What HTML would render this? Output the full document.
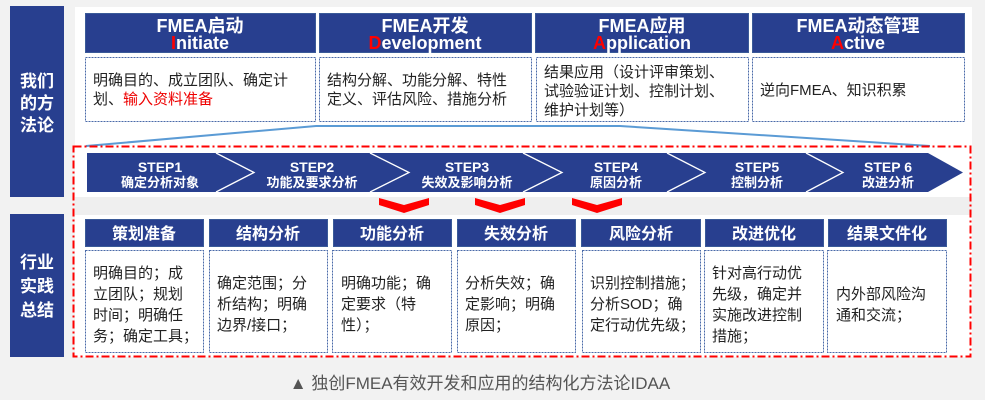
<!DOCTYPE html>
<html><head><meta charset="utf-8"><style>
body{margin:0;background:#f2f2f2;}
svg{display:block;font-family:"Liberation Sans","Noto Sans CJK SC",sans-serif;}
.h{fill:#fff;font-weight:bold;text-anchor:middle;}
.t{fill:#222;font-size:15px;}
</style></head><body>
<svg width="985" height="400" viewBox="0 0 985 400" xmlns="http://www.w3.org/2000/svg">
<rect width="985" height="400" fill="#f2f2f2"/>
<rect x="10" y="6" width="54" height="191" fill="#283f8f"/>
<rect x="10" y="214" width="54" height="143" fill="#283f8f"/>
<g class="h" font-size="17">
<text x="37" y="87">我们</text><text x="37" y="109">的方</text><text x="37" y="131">法论</text>
<text x="37" y="268">行业</text><text x="37" y="292">实践</text><text x="37" y="316">总结</text>
</g>
<rect x="75" y="7" width="897" height="190" fill="#fff"/>
<rect x="75" y="215" width="897" height="142" fill="#fff"/>
<rect x="75" y="197" width="897" height="18" fill="#efefef"/>
<g fill="#283f8f" stroke="#3a5a98" stroke-width="1">
<rect x="85.5" y="13.5" width="230" height="39"/>
<rect x="319.5" y="13.5" width="212" height="39"/>
<rect x="535.5" y="13.5" width="213" height="39"/>
<rect x="752.5" y="13.5" width="212" height="39"/>
</g>
<g class="h" font-size="18">
<text x="200" y="32">FMEA启动</text><text x="200" y="49"><tspan fill="#f00">I</tspan>nitiate</text>
<text x="425" y="32">FMEA开发</text><text x="425" y="49"><tspan fill="#f00">D</tspan>evelopment</text>
<text x="642" y="32">FMEA应用</text><text x="642" y="49"><tspan fill="#f00">A</tspan>pplication</text>
<text x="858" y="32">FMEA动态管理</text><text x="858" y="49"><tspan fill="#f00">A</tspan>ctive</text>
</g>
<g fill="#fff" stroke="#4a6aa8" stroke-width="1" stroke-dasharray="2,1">
<rect x="85.5" y="57.5" width="230" height="64"/>
<rect x="319.5" y="57.5" width="212" height="64"/>
<rect x="536.5" y="57.5" width="212" height="64"/>
<rect x="752.5" y="57.5" width="212" height="64"/>
</g>
<g class="t">
<text x="93" y="85">明确目的、成立团队、确定计</text>
<text x="93" y="104">划、<tspan fill="#e00">输入资料准备</tspan></text>
<text x="327" y="85">结构分解、功能分解、特性</text>
<text x="327" y="104">定义、评估风险、措施分析</text>
<text x="544" y="77">结果应用（设计评审策划、</text>
<text x="544" y="96">试验验证计划、控制计划、</text>
<text x="544" y="115">维护计划等）</text>
<text x="760" y="95">逆向FMEA、知识积累</text>
</g>
<polyline points="86,146 316,126 620,126 930,146" fill="none" stroke="#5b9bd5" stroke-width="2"/>
<path d="M87,153 H928 L963,172.5 L928,192 H87 Z" fill="#283f8f"/>
<g fill="none" stroke="#fff" stroke-width="1.3">
<polyline points="216,153 254,172.5 216,192"/>
<polyline points="370,153 409,172.5 370,192"/>
<polyline points="523,153 562,172.5 523,192"/>
<polyline points="667,153 705,172.5 667,192"/>
<polyline points="806,153 843,172.5 806,192"/>
</g>
<g class="h" font-size="14">
<text x="160" y="172">STEP1</text><text x="312" y="172">STEP2</text><text x="467" y="172">STEP3</text>
<text x="616" y="172">STEP4</text><text x="757" y="172">STEP5</text><text x="888" y="172">STEP 6</text>
</g>
<g class="h" font-size="13">
<text x="160" y="187">确定分析对象</text><text x="312" y="187">功能及要求分析</text><text x="467" y="187">失效及影响分析</text>
<text x="616" y="187">原因分析</text><text x="757" y="187">控制分析</text><text x="888" y="187">改进分析</text>
</g>
<g fill="#f00">
<path d="M379,198 L404,205 L429,198 L429,205 L404,213 L379,205 Z"/>
<path d="M475,198 L500,205 L525,198 L525,205 L500,213 L475,205 Z"/>
<path d="M572,198 L597,205 L622,198 L622,205 L597,213 L572,205 Z"/>
</g>
<g fill="#283f8f" stroke="#3a5a98">
<rect x="85.5" y="219.5" width="118" height="27"/>
<rect x="209.5" y="219.5" width="118" height="27"/>
<rect x="333.5" y="219.5" width="118" height="27"/>
<rect x="457.5" y="219.5" width="118" height="27"/>
<rect x="581.5" y="219.5" width="119" height="27"/>
<rect x="705.5" y="219.5" width="118" height="27"/>
<rect x="828.5" y="219.5" width="118" height="27"/>
</g>
<g class="h" font-size="16">
<text x="144" y="239">策划准备</text><text x="268" y="239">结构分析</text><text x="392" y="239">功能分析</text>
<text x="516" y="239">失效分析</text><text x="641" y="239">风险分析</text><text x="764" y="239">改进优化</text>
<text x="887" y="239">结果文件化</text>
</g>
<g fill="#fff" stroke="#4a6aa8" stroke-dasharray="2,1">
<rect x="85.5" y="250.5" width="118" height="102"/>
<rect x="209.5" y="250.5" width="118" height="102"/>
<rect x="332.5" y="250.5" width="119" height="102"/>
<rect x="457.5" y="250.5" width="118" height="102"/>
<rect x="582.5" y="250.5" width="118" height="102"/>
<rect x="704.5" y="250.5" width="119" height="102"/>
<rect x="827.5" y="250.5" width="119" height="102"/>
</g>
<g class="t" font-size="14">
<text x="93" y="278">明确目的；成</text><text x="93" y="299">立团队；规划</text><text x="93" y="320">时间；明确任</text><text x="93" y="341">务；确定工具；</text>
<text x="217" y="288">确定范围；分</text><text x="217" y="309">析结构；明确</text><text x="217" y="330">边界/接口；</text>
<text x="341" y="288">明确功能；确</text><text x="341" y="309">定要求（特</text><text x="341" y="330">性）；</text>
<text x="465" y="288">分析失效；确</text><text x="465" y="309">定影响；明确</text><text x="465" y="330">原因；</text>
<text x="590" y="288">识别控制措施；</text><text x="590" y="309">分析SOD；确</text><text x="590" y="330">定行动优先级；</text>
<text x="712" y="278">针对高行动优</text><text x="712" y="299">先级，确定并</text><text x="712" y="320">实施改进控制</text><text x="712" y="341">措施；</text>
<text x="836" y="299">内外部风险沟</text><text x="836" y="320">通和交流；</text>
</g>
<rect x="73.5" y="146.5" width="897" height="210" fill="none" stroke="#f00" stroke-width="2" stroke-dasharray="8,3,2,3"/>
<text x="480" y="389" text-anchor="middle" font-size="17" fill="#555">▲ 独创FMEA有效开发和应用的结构化方法论IDAA</text>
</svg>
</body></html>
